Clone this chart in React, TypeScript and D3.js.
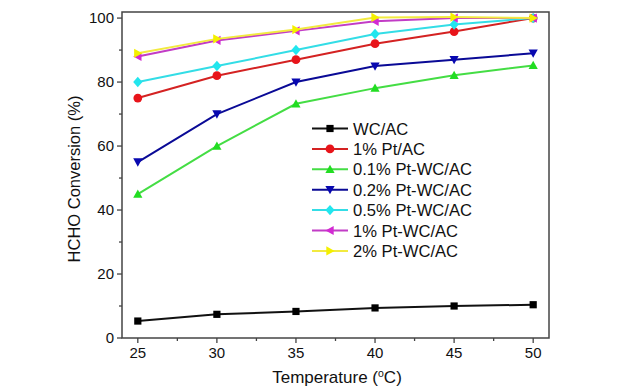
import React from "react";
import * as d3 from "d3";

const temps = [25, 30, 35, 40, 45, 50];
const seriesNames = ["WC/AC", "1% Pt/AC", "0.1% Pt-WC/AC", "0.2% Pt-WC/AC", "0.5% Pt-WC/AC", "1% Pt-WC/AC", "2% Pt-WC/AC"];
const wcAC = [5.3, 7.4, 8.3, 9.4, 10.0, 10.4];
const pt1AC = [75, 82, 87, 92, 95.8, 100];
const pt01WC = [45, 60, 73.2, 78.1, 82.1, 85.2];
const pt02WC = [55, 70, 80, 85, 87, 89];
const pt05WC = [80, 85, 90, 95, 98, 100];
const pt1WC = [88, 93, 96, 99, 100, 100];
const pt2WC = [89, 93.5, 96.4, 100.2, 100.3, 100];
const yTicks = [0, 20, 40, 60, 80, 100];
const xTicks = [25, 30, 35, 40, 45, 50];

const seriesValues = [wcAC, pt1AC, pt01WC, pt02WC, pt05WC, pt1WC, pt2WC];
const lineColors = ["#111111", "#d42222", "#44dd44", "#0a0a96", "#33dde6", "#c23cc6", "#f2ea40"];
const markColors = ["#000000", "#e8141a", "#22dd22", "#0808b0", "#22e6ee", "#d22ad2", "#f4f000"];
const shapes = ["square", "circle", "up", "down", "diamond", "left", "right"];

const W = 639, H = 389;
const L = 122, R = 549, T = 12, B = 338;
const FONT = "'Liberation Sans', Arial, sans-serif";

function Marker({ shape, x, y, color }: { shape: string; x: number; y: number; color: string }) {
  const s = 4.6;
  if (shape === "square") return <rect x={x - 3.6} y={y - 3.6} width={7.2} height={7.2} fill={color} />;
  if (shape === "circle") return <circle cx={x} cy={y} r={4.4} fill={color} />;
  if (shape === "diamond") return <path d={`M${x},${y - 5.2}L${x + 4.6},${y}L${x},${y + 5.2}L${x - 4.6},${y}Z`} fill={color} />;
  let pts: number[][] = [];
  if (shape === "up") pts = [[x, y - s], [x + s, y + s * 0.8], [x - s, y + s * 0.8]];
  if (shape === "down") pts = [[x, y + s], [x + s, y - s * 0.8], [x - s, y - s * 0.8]];
  if (shape === "left") pts = [[x - s, y], [x + s * 0.8, y - s], [x + s * 0.8, y + s]];
  if (shape === "right") pts = [[x + s, y], [x - s * 0.8, y - s], [x - s * 0.8, y + s]];
  return <path d={"M" + pts.map((p) => p.join(",")).join("L") + "Z"} fill={color} />;
}

export default function App() {
  const x = d3.scaleLinear().domain([24, 51]).range([L, R]);
  const y = d3.scaleLinear().domain([0, 101.9]).range([B, T]);
  const line = d3.line<number>().x((_, i) => x(temps[i])).y((d) => y(d));
  const minorX = d3.range(27.5, 50, 5);
  const minorY = d3.range(10, 100, 20);
  const legX = 312, legY0 = 128.5, legDy = 20.4;
  const axisColor = "#444";
  return (
    <svg width={W} height={H} style={{ position: "absolute", left: 0, top: 0, background: "#fff" }}>
      <rect x={0} y={0} width={W} height={H} fill="#fff" />
      {seriesValues.map((vals, si) => (
        <g key={si}>
          <path d={line(vals) || ""} fill="none" stroke={lineColors[si]} strokeWidth={2} />
          {vals.map((v, i) => (
            <Marker key={i} shape={shapes[si]} x={x(temps[i])} y={y(v)} color={markColors[si]} />
          ))}
        </g>
      ))}
      <rect x={L} y={T} width={R - L} height={B - T} fill="none" stroke={axisColor} strokeWidth={1.5} />
      {xTicks.map((t) => (
        <g key={t}>
          <line x1={x(t)} x2={x(t)} y1={B} y2={B + 5} stroke={axisColor} strokeWidth={1.3} />
          <text x={x(t)} y={358} textAnchor="middle" fontSize={15} fontFamily={FONT} fill="#111">{t}</text>
        </g>
      ))}
      {minorX.map((t) => (
        <line key={t} x1={x(t)} x2={x(t)} y1={B} y2={B + 3} stroke={axisColor} strokeWidth={1.3} />
      ))}
      {yTicks.map((t) => (
        <g key={t}>
          <line x1={L - 5} x2={L} y1={y(t)} y2={y(t)} stroke={axisColor} strokeWidth={1.3} />
          <text x={L - 8} y={y(t) + 5} textAnchor="end" fontSize={15} fontFamily={FONT} fill="#111">{t}</text>
        </g>
      ))}
      {minorY.map((t) => (
        <line key={t} x1={L - 3} x2={L} y1={y(t)} y2={y(t)} stroke={axisColor} strokeWidth={1.3} />
      ))}
      <text x={337} y={383} textAnchor="middle" fontSize={17} fontFamily={FONT} fill="#111">
        Temperature (<tspan dy={-6} fontSize={10.5}>o</tspan><tspan dy={6}>C)</tspan>
      </text>
      <text transform={`translate(80,${(T + B) / 2 + 4}) rotate(-90)`} textAnchor="middle" fontSize={16.5} fontFamily={FONT} fill="#111">
        HCHO Conversion (%)
      </text>
      {seriesNames.map((name, si) => {
        const ly = legY0 + si * legDy;
        return (
          <g key={name}>
            <line x1={legX} x2={legX + 36} y1={ly} y2={ly} stroke={lineColors[si]} strokeWidth={2} />
            <Marker shape={shapes[si]} x={legX + 18} y={ly} color={markColors[si]} />
            <text x={legX + 41} y={ly + 6} fontSize={16.6} fontFamily={FONT} fill="#111">{name}</text>
          </g>
        );
      })}
    </svg>
  );
}
